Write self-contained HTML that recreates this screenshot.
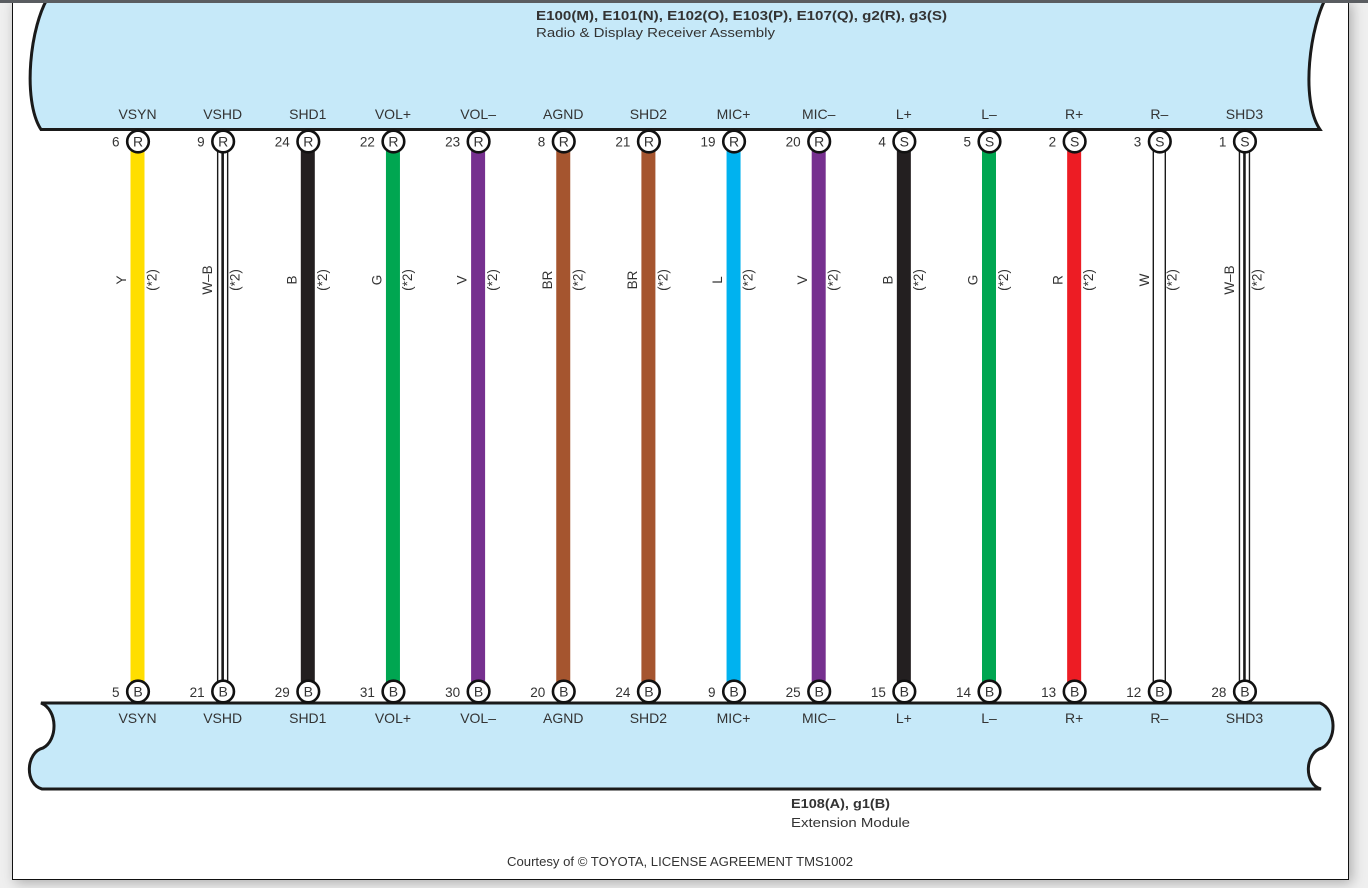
<!DOCTYPE html>
<html><head><meta charset="utf-8">
<style>
html,body{margin:0;padding:0;width:1368px;height:888px;overflow:hidden;background:#efefef;}
#page{position:absolute;left:12px;top:0;width:1335px;height:879px;background:#fff;border:1px solid #111;border-top:none;box-shadow:3px 3px 12px rgba(0,0,0,0.28);}
#bar{position:absolute;left:0;top:0;width:1368px;height:3px;background:#5a5d61;}
svg{position:absolute;left:0;top:0;}
text{font-family:"Liberation Sans",Arial,sans-serif;fill:#333;}
</style></head><body>
<div id="page"></div>
<svg width="1368" height="888" viewBox="0 0 1368 888" xmlns="http://www.w3.org/2000/svg">
<!-- top connector -->
<path d="M49,-4 C30,25 22,100 41,129.5 L1320,129.5 C1300,100 1310,25 1327,-4 Z" fill="#c6e9f9" stroke="#1a1a1a" stroke-width="3"/>
<!-- bottom connector -->
<path d="M41,703 L1320,703 C1337,710 1337,740 1322,748 C1305,752 1303,784 1321,789 L42,789 C24,784 26,752 43,748 C58,740 58,710 41,703 Z" fill="#c6e9f9" stroke="#1a1a1a" stroke-width="3"/>

<text x="536" y="20" font-size="13" font-weight="bold" fill="#1a1a1a" textLength="411" lengthAdjust="spacingAndGlyphs">E100(M), E101(N), E102(O), E103(P), E107(Q), g2(R), g3(S)</text>
<text x="536" y="37" font-size="12.5" textLength="239" lengthAdjust="spacingAndGlyphs">Radio &amp; Display Receiver Assembly</text>

<text x="791" y="808" font-size="13" font-weight="bold" fill="#1a1a1a" textLength="99" lengthAdjust="spacingAndGlyphs">E108(A), g1(B)</text>
<text x="791" y="827" font-size="12.5" textLength="119" lengthAdjust="spacingAndGlyphs">Extension Module</text>
<text x="507" y="866" font-size="13" fill="#222" textLength="346" lengthAdjust="spacingAndGlyphs">Courtesy of © TOYOTA, LICENSE AGREEMENT TMS1002</text>

<g id="wires"></g>
</svg>
<script>
(function(){
var NS="http://www.w3.org/2000/svg";
var g=document.getElementById("wires");
function el(n,a,t){var e=document.createElementNS(NS,n);for(var k in a)e.setAttribute(k,a[k]);if(t!==undefined)e.textContent=t;g.appendChild(e);return e;}
var names=["VSYN","VSHD","SHD1","VOL+","VOL\u2013","AGND","SHD2","MIC+","MIC\u2013","L+","L\u2013","R+","R\u2013","SHD3"];
var topPins=["6","9","24","22","23","8","21","19","20","4","5","2","3","1"];
var topL=["R","R","R","R","R","R","R","R","R","S","S","S","S","S"];
var botPins=["5","21","29","31","30","20","24","9","25","15","14","13","12","28"];
var lab=["Y","W\u2013B","B","G","V","BR","BR","L","V","B","G","R","W","W\u2013B"];
var col=["#ffde00","WB","#231f20","#00a651","#76308f","#a5552f","#a5552f","#00b2ef","#76308f","#231f20","#00a651","#ed1c24","W","WB"];
for(var i=0;i<14;i++){
  var cx=137.5+i*85.15;
  var y1=151,y2=682;
  if(col[i]=="WB"){
    el("rect",{x:cx-5,y:y1,width:10,height:y2-y1,fill:"#fff",stroke:"#1a1a1a","stroke-width":1.4});
    el("rect",{x:cx-1.3,y:y1,width:2.6,height:y2-y1,fill:"#1a1a1a"});
  }else if(col[i]=="W"){
    el("rect",{x:cx-6,y:y1,width:12,height:y2-y1,fill:"#fff",stroke:"#1a1a1a","stroke-width":1.4});
  }else{
    el("rect",{x:cx-7,y:y1,width:14,height:y2-y1,fill:col[i]});
  }
  var off=(col[i]=="WB"||col[i]=="W")?-15:-16;
  var off2=(col[i]=="WB"||col[i]=="W")?12.5:14.5;
  el("text",{x:0,y:0,"font-size":13.5,"text-anchor":"middle","dominant-baseline":"central",transform:"translate("+(cx+off)+",280) rotate(-90)"},lab[i]);
  el("text",{x:0,y:0,"font-size":13.5,"text-anchor":"middle","dominant-baseline":"central",transform:"translate("+(cx+off2)+",280) rotate(-90)"},"(*2)");
  el("circle",{cx:cx+0.5,cy:141.5,r:10.8,fill:"#fff",stroke:"#111","stroke-width":2.6});
  el("text",{x:cx+0.5,y:146.5,"font-size":14,"text-anchor":"middle",fill:"#222"},topL[i]);
  el("text",{x:cx-18,y:146.5,"font-size":13.5,"text-anchor":"end"},topPins[i]);
  el("text",{x:cx,y:119,"font-size":14,"text-anchor":"middle"},names[i]);
  el("circle",{cx:cx+0.5,cy:691.5,r:10.8,fill:"#fff",stroke:"#111","stroke-width":2.6});
  el("text",{x:cx+0.5,y:696.5,"font-size":14,"text-anchor":"middle",fill:"#222"},"B");
  el("text",{x:cx-18,y:697,"font-size":13.5,"text-anchor":"end"},botPins[i]);
  el("text",{x:cx,y:723,"font-size":14,"text-anchor":"middle"},names[i]);
}
})();
</script>
<div id="bar"></div>
</body></html>
